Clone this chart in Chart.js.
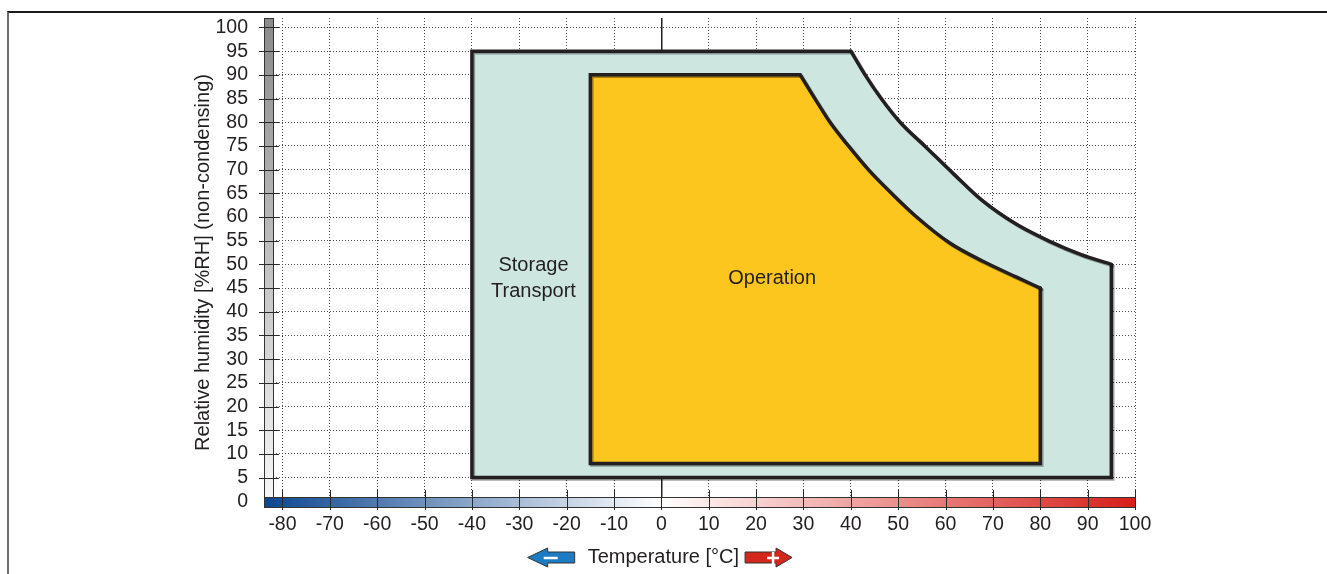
<!DOCTYPE html>
<html>
<head>
<meta charset="utf-8">
<title>Temperature / humidity diagram</title>
<script src="https://cdn.jsdelivr.net/npm/chart.js@4.4.1/dist/chart.umd.min.js"></script>
<style>
    html, body { margin: 0; padding: 0; background: #fff; }
    #wrap { position: absolute; left: 0; top: 0; width: 1327px; height: 574px; overflow: hidden; }
    #frame { position: absolute; left: 7px; top: 11px; right: 0; bottom: 0; border-top: 2px solid #1a1a1a; border-left: 2px solid #6e6e6e; }
    #myChart { position: absolute; left: 0; top: 0; }
</style>
</head>
<body>
<div id="wrap">
    <div id="frame"></div>
    <canvas id="myChart" width="1327" height="574"></canvas>
</div>
<script>
var xTicks = [-80, -70, -60, -50, -40, -30, -20, -10, 0, 10, 20, 30, 40, 50, 60, 70, 80, 90, 100];
var yTicks = [0, 5, 10, 15, 20, 25, 30, 35, 40, 45, 50, 55, 60, 65, 70, 75, 80, 85, 90, 95, 100];

// curved edge of each area, then the straight edges from the curve's end back to its start
var storageCurveTemp = [40, 43.0, 46.4, 50.4, 55.6, 61.8, 67.6, 74.9, 82.1, 88.5, 95];
var storageCurveRH   = [95, 90, 85, 80, 75, 69, 63.6, 58.5, 54.8, 52.1, 50];
var storageEdgeTemp  = [95, 95, -40, -40, 40];
var storageEdgeRH    = [50, 5, 5, 95, 95];

var operationCurveTemp = [29.3, 32.4, 35.6, 39.5, 43.7, 48.6, 53.9, 60.9, 68.0, 75.0, 80];
var operationCurveRH   = [90, 85, 80, 75, 70, 65, 60, 54.5, 50.6, 47.3, 45];
var operationEdgeTemp  = [80, 80, -15, -15, 29.3];
var operationEdgeRH    = [45, 8, 8, 90, 90];

var storageText = ["Storage", "Transport"];
var operationText = ["Operation"];
var xTitle = "Temperature [°C]";
var yTitle = "Relative humidity [%RH] (non-condensing)";

var fontFamily = "'Liberation Sans', Arial, sans-serif";
var textColor = "#231f20";
var outlineColor = "#231f20";

function toPoints(xs, ys) {
    var pts = [];
    for (var i = 0; i < xs.length; i++) {
        pts.push({x: xs[i], y: ys[i]});
    }
    return pts;
}

// area fill only, outline comes from the two datasets below
function areaDataset(label, curveX, curveY, edgeX, edgeY, color) {
    return {
        label: label,
        data: toPoints(curveX.concat(edgeX.slice(1)), curveY.concat(edgeY.slice(1))),
        fill: "shape",
        backgroundColor: color,
        borderWidth: 0,
        borderColor: "rgba(0, 0, 0, 0)",
        tension: 0,
        pointRadius: 0,
    };
}

function edgeDataset(label, edgeX, edgeY) {
    return {
        label: label,
        data: toPoints(edgeX, edgeY),
        fill: false,
        borderColor: outlineColor,
        borderWidth: 3.5,
        borderCapStyle: "round",
        borderJoinStyle: "miter",
        tension: 0,
        pointRadius: 0,
    };
}

function curveDataset(label, curveX, curveY) {
    return {
        label: label,
        data: toPoints(curveX, curveY),
        fill: false,
        borderColor: outlineColor,
        borderWidth: 3.5,
        borderCapStyle: "round",
        cubicInterpolationMode: "monotone",
        pointRadius: 0,
    };
}

// axis bars, tick marks, region names and the temperature title
var decorPlugin = {
    id: "decor",
    beforeDatasetsDraw: function (chart) {
        var ctx = chart.ctx;
        var area = chart.chartArea;
        var xs = chart.scales.x;
        var ys = chart.scales.y;
        var barTop = area.bottom - 10;

        ctx.save();
        var g = ctx.createLinearGradient(0, area.top, 0, barTop);
        g.addColorStop(0, "#8a8a8a");
        g.addColorStop(1, "#f6f6f6");
        ctx.fillStyle = g;
        ctx.fillRect(area.left, area.top, 10, barTop - area.top);
        ctx.strokeStyle = "#333";
        ctx.lineWidth = 1;
        ctx.strokeRect(area.left + 0.5, area.top + 0.5, 9, barTop - area.top);

        var zeroPos = (xs.getPixelForValue(0) - area.left) / (area.right - area.left);
        var c = ctx.createLinearGradient(area.left, 0, area.right, 0);
        c.addColorStop(0, "#0b4690");
        c.addColorStop(zeroPos, "#ffffff");
        c.addColorStop(1, "#d61f19");
        ctx.fillStyle = c;
        ctx.fillRect(area.left, barTop, area.right - area.left, 10);
        ctx.strokeRect(area.left + 0.5, barTop + 0.5, area.right - area.left, 10);

        ctx.strokeStyle = "#2a2a2a";
        ctx.beginPath();
        for (var i = 0; i < xTicks.length; i++) {
            var px = Math.round(xs.getPixelForValue(xTicks[i])) + 0.5;
            ctx.moveTo(px, barTop - 7);
            ctx.lineTo(px, area.bottom + 3);
        }
        for (var j = 1; j < yTicks.length; j++) {
            var py = Math.round(ys.getPixelForValue(yTicks[j])) + 0.5;
            ctx.moveTo(area.left - 5, py);
            ctx.lineTo(area.left + 15, py);
        }
        ctx.stroke();
        ctx.restore();
    },
    afterDatasetsDraw: function (chart) {
        var ctx = chart.ctx;
        var xs = chart.scales.x;
        var ys = chart.scales.y;
        ctx.save();
        ctx.fillStyle = textColor;
        ctx.font = "20px " + fontFamily;
        ctx.textAlign = "center";
        ctx.textBaseline = "alphabetic";
        ctx.fillText(storageText[0], xs.getPixelForValue(-27), ys.getPixelForValue(48.7));
        ctx.fillText(storageText[1], xs.getPixelForValue(-27), ys.getPixelForValue(43.1));
        ctx.fillText(operationText[0], xs.getPixelForValue(23.4), ys.getPixelForValue(45.8));
        ctx.restore();
    },
    afterDraw: function (chart) {
        var ctx = chart.ctx;
        var xs = chart.scales.x;
        var cx = xs.getPixelForValue(0) + 2;
        var cy = 557.5;

        ctx.save();
        ctx.font = "20px " + fontFamily;
        ctx.fillStyle = textColor;
        ctx.textAlign = "center";
        ctx.textBaseline = "alphabetic";
        ctx.fillText(xTitle, cx, 563);
        var w = ctx.measureText(xTitle).width;

        // blue arrow, pointing left
        var r = cx - w / 2 - 13;
        var tip = r - 47;
        ctx.beginPath();
        ctx.moveTo(tip, cy);
        ctx.lineTo(tip + 20, cy - 9.5);
        ctx.lineTo(tip + 20, cy - 5.5);
        ctx.lineTo(r, cy - 5.5);
        ctx.lineTo(r, cy + 5.5);
        ctx.lineTo(tip + 20, cy + 5.5);
        ctx.lineTo(tip + 20, cy + 9.5);
        ctx.closePath();
        ctx.fillStyle = "#1b7bc3";
        ctx.fill();
        ctx.strokeStyle = "#333";
        ctx.lineWidth = 1;
        ctx.stroke();
        ctx.strokeStyle = "#fff";
        ctx.lineWidth = 2.5;
        ctx.beginPath();
        ctx.moveTo(tip + 16, cy + 0.5);
        ctx.lineTo(tip + 30, cy + 0.5);
        ctx.stroke();

        // red arrow, pointing right
        var l = cx + w / 2 + 6;
        var tipR = l + 47;
        ctx.beginPath();
        ctx.moveTo(tipR, cy);
        ctx.lineTo(tipR - 16, cy - 9.5);
        ctx.lineTo(tipR - 16, cy - 5.5);
        ctx.lineTo(l, cy - 5.5);
        ctx.lineTo(l, cy + 5.5);
        ctx.lineTo(tipR - 16, cy + 5.5);
        ctx.lineTo(tipR - 16, cy + 9.5);
        ctx.closePath();
        ctx.fillStyle = "#d3271b";
        ctx.fill();
        ctx.strokeStyle = "#333";
        ctx.lineWidth = 1;
        ctx.stroke();
        ctx.strokeStyle = "#fff";
        ctx.lineWidth = 2.5;
        ctx.beginPath();
        ctx.moveTo(tipR - 25, cy + 0.5);
        ctx.lineTo(tipR - 13, cy + 0.5);
        ctx.moveTo(tipR - 19, cy - 5.5);
        ctx.lineTo(tipR - 19, cy + 6.5);
        ctx.stroke();
        ctx.restore();
    }
};

// grey offset shadow under the outlines
var shadowPlugin = {
    id: "edgeShadow",
    beforeDatasetDraw: function (chart) {
        var ctx = chart.ctx;
        ctx.save();
        ctx.shadowColor = "rgba(0, 0, 0, 0.35)";
        ctx.shadowOffsetX = 1.5;
        ctx.shadowOffsetY = 1.5;
        ctx.shadowBlur = 0.5;
    },
    afterDatasetDraw: function (chart) {
        chart.ctx.restore();
    }
};

Chart.defaults.font.family = fontFamily;
Chart.defaults.color = textColor;

var chartCtx = document.getElementById("myChart");
var myChart = new Chart(chartCtx, {
    type: "line",
    data: {
        // drawn last to first, so operation sits on top of storage
        datasets: [
            curveDataset("Operation curve", operationCurveTemp, operationCurveRH),
            edgeDataset("Operation edge", operationEdgeTemp, operationEdgeRH),
            areaDataset("Operation", operationCurveTemp, operationCurveRH, operationEdgeTemp, operationEdgeRH, "#fdc61e"),
            curveDataset("Storage curve", storageCurveTemp, storageCurveRH),
            edgeDataset("Storage edge", storageEdgeTemp, storageEdgeRH),
            areaDataset("Storage / Transport", storageCurveTemp, storageCurveRH, storageEdgeTemp, storageEdgeRH, "#cde7e0"),
        ],
    },
    options: {
        responsive: false,
        animation: false,
        devicePixelRatio: 1,
        layout: {
            padding: {top: 18, right: 192, bottom: 0, left: 0},
        },
        plugins: {
            legend: {display: false},
            tooltip: {enabled: false},
        },
        scales: {
            x: {
                type: "linear",
                min: -83.9,
                max: 100,
                afterBuildTicks: function (scale) {
                    scale.ticks = xTicks.map(function (v) { return {value: v}; });
                },
                afterFit: function (scale) {
                    scale.height = 67;
                },
                grid: {
                    color: function (c) { return c.tick && c.tick.value === 0 ? "#231f20" : "#4a4a4a"; },
                    lineWidth: function (c) { return c.tick && c.tick.value === 0 ? 1.5 : 1; },
                    drawTicks: false,
                },
                border: {
                    display: false,
                    dash: function (c) { return c.tick && c.tick.value === 0 ? [] : [1, 2]; },
                },
                ticks: {
                    color: textColor,
                    font: {size: 19.5},
                    padding: 6,
                    maxRotation: 0,
                    autoSkip: false,
                    callback: function (v) { return String(v); },
                },
            },
            y: {
                type: "linear",
                min: -1.2,
                max: 102,
                afterBuildTicks: function (scale) {
                    scale.ticks = yTicks.map(function (v) { return {value: v}; });
                },
                afterFit: function (scale) {
                    scale.width = 264;
                },
                grid: {
                    color: "#4a4a4a",
                    lineWidth: 1,
                    drawTicks: true,
                    tickLength: 12,
                    tickColor: "rgba(0, 0, 0, 0)",
                },
                border: {
                    display: false,
                    dash: [1, 2],
                },
                ticks: {
                    color: textColor,
                    font: {size: 19.5},
                    padding: 4,
                    autoSkip: false,
                    callback: function (v) { return String(v); },
                },
                title: {
                    display: true,
                    text: yTitle,
                    color: textColor,
                    font: {size: 20},
                    padding: {top: 191, bottom: 0},
                },
            },
        },
    },
    plugins: [shadowPlugin, decorPlugin],
});
</script>
</body>
</html>
